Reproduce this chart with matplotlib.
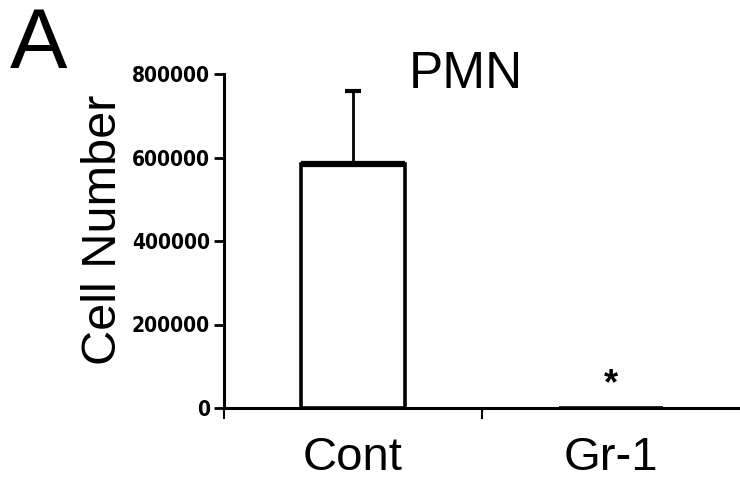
#!/usr/bin/env python
"""PMN cell number, control vs Gr-1 depleted."""

import matplotlib
matplotlib.use("Agg")
import matplotlib.pyplot as plt

# data
groups = ["Cont", "Gr-1"]
cell_number = [585000, 500]
sem = [175000, 0]
y_ticks = [0, 200000, 400000, 600000, 800000]
marks = ["", "*"]

BAR_W = 0.4


def main():
    """ draw the bar chart """
    fig = plt.figure(figsize=(7.4, 4.82), dpi=100)
    ax = fig.add_axes([224 / 740, 1 - 408 / 482, 1 - 224 / 740, 334 / 482])

    pos = list(range(len(groups)))
    ax.bar(pos, cell_number, width=BAR_W, color="white", edgecolor="black",
           linewidth=2.6, zorder=2)
    # top edge of the control bar looks heavier in the original
    ax.hlines(cell_number[0], pos[0] - BAR_W / 2, pos[0] + BAR_W / 2,
              colors="black", linewidth=4.5, zorder=3)
    ax.errorbar(pos[0], cell_number[0], yerr=[[0], [sem[0]]], fmt="none",
                ecolor="black", elinewidth=2, capsize=6, capthick=3, zorder=3)
    for p, v, m in zip(pos, cell_number, marks):
        if m:
            ax.text(p, v + 13000, m, ha="center", va="bottom",
                    fontsize=26, fontweight="bold", family="Liberation Sans")

    ax.set_xlim(-0.5, 1.5)
    ax.set_ylim(0, 800000)

    for side in ["top", "right"]:
        ax.spines[side].set_visible(False)
    ax.spines["left"].set_linewidth(2.2)
    ax.spines["bottom"].set_linewidth(2.2)

    ax.set_yticks(y_ticks)
    ax.set_yticklabels([str(t) for t in y_ticks],
                       family=["DejaVu Sans Condensed", "Liberation Sans Narrow",
                               "DejaVu Sans"],
                       fontweight="bold", fontstretch="condensed", fontsize=15)
    ax.tick_params(axis="y", direction="out", length=7, width=2, pad=3)

    ax.set_xticks([-0.5, 0.5])
    ax.set_xticklabels(["", ""])
    ax.tick_params(axis="x", which="major", direction="out", length=8, width=1.5)
    ax.set_xticks(pos, minor=True)
    ax.set_xticklabels(groups, minor=True, fontsize=34, family="Liberation Sans")
    ax.tick_params(axis="x", which="minor", length=0, pad=20)

    ax.set_ylabel("Cell Number", fontsize=35, family="Liberation Sans")
    ax.yaxis.set_label_coords(-0.19, 0.533)
    fig.text(466 / 740, 1 - 75 / 482, "PMN", ha="center", va="center",
             fontsize=37, family="Liberation Sans")
    fig.text(10 / 740, 1 - 68 / 482, "A", fontsize=62, family="Liberation Sans",
             ha="left", va="baseline")

    fig.savefig("out.png", dpi=100)


if __name__ == "__main__":
    main()
